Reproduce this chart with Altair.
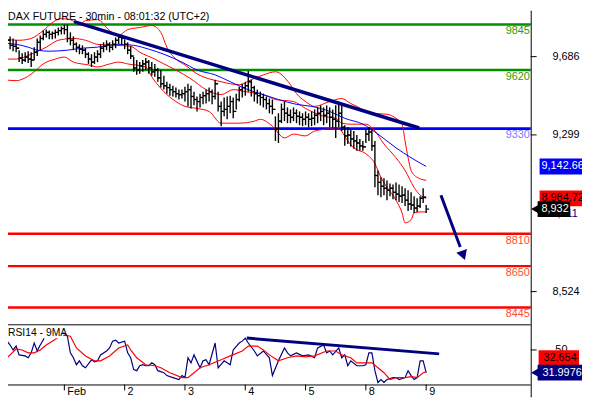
import altair as alt
import pandas as pd

FONT = "Liberation Sans"

# ---------------- price bars (30-min), bar index j: 20 bars per day ----------------
highs = [9791, 9801, 9786, 9776, 9767, 9718, 9703, 9708, 9713, 9708, 9732, 9776, 9791, 9815, 9820, 9815, 9811, 9820, 9830, 9835,
         9845, 9845, 9806, 9786, 9757, 9747, 9742, 9728, 9708, 9698, 9708, 9718, 9747, 9757, 9767, 9757, 9767, 9781, 9796, 9791,
         9772, 9757, 9737, 9684, 9669, 9659, 9669, 9679, 9669, 9659, 9650, 9630, 9620, 9591, 9562, 9552, 9542, 9533, 9523, 9523,
         9537, 9552, 9542, 9513, 9489, 9503, 9513, 9523, 9533, 9523, 9572, 9513, 9464, 9484, 9489, 9493, 9484, 9503, 9537, 9552,
         9562, 9615, 9572, 9542, 9523, 9513, 9503, 9489, 9479, 9474, 9391, 9406, 9454, 9464, 9435, 9425, 9435, 9425, 9415, 9406,
         9415, 9406, 9415, 9425, 9435, 9445, 9435, 9445, 9435, 9425, 9445, 9464, 9445, 9347, 9337, 9328, 9318, 9298, 9279, 9269,
         9328, 9337, 9328, 9269, 9123, 9089, 9084, 9074, 9059, 9054, 9064, 9054, 9045, 9035, 9025, 9015, 8996, 8986, 8996, 9035,
         8952]
lows = [9737, 9747, 9723, 9713, 9708, 9659, 9650, 9659, 9654, 9635, 9669, 9689, 9718, 9767, 9781, 9772, 9772, 9776, 9791, 9796,
        9796, 9757, 9742, 9718, 9708, 9698, 9698, 9679, 9650, 9635, 9650, 9659, 9679, 9708, 9718, 9708, 9718, 9728, 9747, 9747,
        9723, 9698, 9674, 9611, 9596, 9601, 9611, 9620, 9601, 9591, 9586, 9562, 9533, 9523, 9503, 9493, 9489, 9484, 9474, 9479,
        9464, 9440, 9430, 9445, 9415, 9435, 9450, 9454, 9464, 9450, 9474, 9415, 9342, 9391, 9376, 9406, 9381, 9425, 9464, 9484,
        9493, 9513, 9489, 9464, 9454, 9445, 9435, 9425, 9406, 9401, 9269, 9259, 9357, 9367, 9357, 9357, 9367, 9357, 9347, 9342,
        9347, 9337, 9342, 9347, 9357, 9367, 9347, 9357, 9337, 9333, 9284, 9337, 9318, 9245, 9254, 9240, 9230, 9220, 9220, 9220,
        9259, 9269, 9220, 9040, 9001, 8991, 9001, 8976, 8996, 8981, 8976, 8967, 8962, 8947, 8923, 8928, 8913, 8918, 8937, 8962,
        8913]
closes = [9757, 9767, 9742, 9737, 9728, 9679, 9669, 9684, 9674, 9669, 9708, 9757, 9776, 9796, 9806, 9796, 9801, 9806, 9815, 9825,
          9820, 9776, 9767, 9747, 9732, 9723, 9718, 9698, 9674, 9659, 9684, 9698, 9728, 9737, 9747, 9732, 9747, 9767, 9781, 9776,
          9747, 9718, 9689, 9630, 9620, 9640, 9650, 9659, 9630, 9611, 9620, 9581, 9552, 9542, 9533, 9523, 9513, 9503, 9498, 9503,
          9513, 9523, 9489, 9474, 9464, 9484, 9493, 9503, 9513, 9489, 9552, 9440, 9415, 9425, 9440, 9464, 9415, 9474, 9523, 9533,
          9542, 9562, 9533, 9503, 9493, 9484, 9474, 9454, 9440, 9425, 9328, 9367, 9425, 9406, 9396, 9386, 9406, 9391, 9386, 9376,
          9386, 9376, 9381, 9396, 9406, 9415, 9396, 9406, 9386, 9376, 9367, 9406, 9337, 9294, 9298, 9279, 9269, 9259, 9245, 9240,
          9303, 9313, 9245, 9098, 9064, 9045, 9035, 9025, 9035, 9015, 9006, 8996, 9001, 8976, 8957, 8952, 8937, 8947, 8986, 8991,
          8932]

# Bollinger bands
bb_up_j = [0, 5, 9, 13, 16, 19, 22, 25, 27, 31, 35, 38, 41, 45, 49, 52, 54, 57, 60, 64, 68, 72, 75, 78, 82, 86, 90, 95, 97, 100,
           103, 108, 112, 115, 117, 120, 123, 127, 130, 132, 133, 134, 135, 137, 140]
bb_up_v = [9772, 9767, 9776, 9815, 9854, 9874, 9869, 9845, 9864, 9869, 9815, 9791, 9820, 9830, 9840, 9806, 9733, 9674, 9645, 9601,
           9576, 9562, 9552, 9547, 9572, 9596, 9611, 9547, 9503, 9464, 9440, 9464, 9479, 9454, 9440, 9415, 9405, 9401, 9381, 9352,
           9269, 9186, 9123, 9089, 9074]
bb_mid_j = [0, 4, 9, 14, 18, 23, 27, 31, 37, 42, 45, 50, 53, 57, 62, 67, 72, 76, 80, 86, 90, 96, 100, 106, 110, 112, 115, 120, 123,
            126, 130, 133, 136, 138, 140]
bb_mid_v = [9674, 9674, 9698, 9733, 9767, 9776, 9767, 9747, 9742, 9737, 9708, 9674, 9650, 9620, 9576, 9523, 9498, 9523, 9513, 9498,
            9474, 9464, 9430, 9391, 9381, 9357, 9352, 9352, 9318, 9254, 9186, 9123, 9039, 9001, 8985]
bb_lo_j = [0, 4, 7, 10, 13, 17, 20, 23, 28, 31, 35, 38, 41, 47, 49, 51, 53, 57, 60, 64, 68, 72, 75, 78, 83, 85, 89, 93, 96, 100,
           103, 108, 111, 114, 116, 120, 123, 125, 127, 130, 132, 133, 135, 136, 138, 140]
bb_lo_v = [9572, 9567, 9581, 9611, 9650, 9674, 9684, 9659, 9645, 9635, 9650, 9659, 9650, 9635, 9586, 9547, 9513, 9464, 9440, 9430,
           9415, 9357, 9357, 9357, 9367, 9376, 9342, 9284, 9303, 9294, 9318, 9328, 9328, 9269, 9235, 9206, 9157, 9089, 9040, 8976,
           8913, 8864, 8879, 8913, 8918, 8918]
# longer moving average (blue)
ma_j = [0, 4, 8, 11, 15, 21, 26, 31, 38, 43, 48, 53, 59, 64, 70, 75, 80, 86, 91, 97, 102, 108, 113, 119, 124, 130, 135, 140]
ma_v = [9752, 9747, 9733, 9718, 9713, 9718, 9728, 9733, 9747, 9742, 9723, 9698, 9659, 9620, 9596, 9562, 9528, 9498, 9474, 9450,
        9440, 9415, 9381, 9352, 9303, 9235, 9186, 9143]

# RSI14 and its 9MA
rsi_j = [0, 1, 2, 3, 4, 5, 7, 8, 9, 10, 11, 12, 13, 14, 16, 18, 20, 21, 22, 23, 24, 25, 26, 27, 29, 30, 31, 32, 34, 35, 36, 37, 38,
         40, 41, 42, 43, 44, 45, 46, 47, 48, 49, 50, 51, 53, 54, 56, 58, 59, 60, 61, 62, 63, 65, 66, 67, 68, 70, 71, 73, 74, 75, 76,
         78, 79, 80, 81, 83, 84, 86, 88, 89, 91, 93, 94, 95, 97, 99, 101, 103, 104, 106, 107, 108, 109, 111, 112, 113, 114, 115,
         117, 119, 120, 121, 122, 123, 124, 125, 126, 127, 129, 130, 131, 133, 134, 135, 136, 137, 138, 139, 140]
rsi_v = [42.2, 57.0, 53.9, 50.0, 53.1, 46.1, 45.3, 43.8, 47.7, 55.5, 49.2, 53.9, 57.8, 64.8, 65.5, 64.8, 63.3, 60.9, 47.7, 43.8,
         38.3, 41.4, 37.5, 35.9, 42.2, 40.6, 41.4, 46.1, 49.2, 51.6, 57.0, 57.8, 55.5, 57.0, 47.7, 43.8, 34.4, 33.6, 37.5, 38.3,
         37.5, 37.5, 39.8, 38.3, 33.6, 32.0, 29.7, 28.1, 26.6, 29.7, 28.1, 43.8, 39.8, 46.1, 35.9, 41.4, 42.2, 38.3, 55.5, 35.9,
         41.4, 39.8, 38.3, 50.0, 55.5, 57.0, 59.4, 55.5, 49.2, 45.3, 49.2, 43.8, 29.7, 41.4, 51.6, 47.7, 45.3, 47.7, 45.3, 46.1,
         43.8, 51.6, 53.9, 47.7, 49.2, 46.1, 51.6, 43.8, 46.1, 37.5, 41.4, 37.5, 37.5, 38.3, 47.7, 47.7, 33.6, 24.2, 26.6, 24.2,
         26.6, 28.1, 28.1, 26.6, 28.1, 33.6, 29.7, 26.6, 28.1, 41.4, 41.4, 31.9976]
rma_j = [0, 2, 4, 6, 8, 10, 12, 14, 16, 18, 20, 22, 24, 27, 30, 32, 35, 38, 41, 42, 44, 47, 50, 52, 55, 59, 61, 63, 65, 68, 72, 75,
         79, 81, 84, 86, 88, 91, 94, 97, 100, 103, 107, 110, 112, 115, 117, 120, 122, 124, 126, 128, 130, 133, 135, 137, 139, 140]
rma_v = [41.4, 46.1, 50.8, 50.0, 47.7, 47.7, 50.0, 53.9, 57.0, 60.0, 61.7, 60.9, 51.6, 45.3, 41.4, 41.4, 45.3, 51.6, 53.9, 50.0,
         43.8, 38.3, 37.5, 35.9, 32.0, 28.1, 28.1, 32.0, 35.9, 38.3, 42.2, 45.3, 49.2, 53.1, 53.1, 50.0, 46.1, 41.4, 43.8, 45.3,
         44.5, 45.3, 49.2, 49.2, 46.1, 43.8, 39.8, 39.8, 39.8, 35.9, 32.0, 26.6, 28.1, 28.1, 28.9, 28.1, 32.0, 32.654]

# levels
level_vals = [9845, 9620, 9330, 8810, 8650, 8445]
level_line_colors = ["#009000", "#009000", "#0000ff", "#ff0000", "#ff0000", "#ff0000"]
level_text_colors = ["#3a9a00", "#3a9a00", "#7b7bff", "#ff4d2e", "#ff4d2e", "#ff4d2e"]
level_widths = [2.5, 2.5, 3, 2.5, 2.5, 2.5]

price_ticks = [9686, 9299, 8524]
price_tick_labels = ["9,686", "9,299", "8,524"]
day_pos = [20, 40, 60, 80, 100, 120, 140]
day_labels = ["Feb", "2", "3", "4", "5", "8", "9"]

trend_j = [23.2, 137.7]
trend_v = [9859, 9333]
arrow_j = [144.9, 151.3]
arrow_v = [9001, 8745]
arrow_head_j = [152.3]
arrow_head_v = [8703]
rsi_trend_j = [80.5, 144.3]
rsi_trend_v = [59.4, 46.9]

# ---------------- scales ----------------
W, H = 582, 392
XS = alt.Scale(domain=[0, 140], range=[-4, 424], zero=False, nice=False)
PS = alt.Scale(domain=[8445, 9845], range=[301, 14], zero=False, nice=False)
RS = alt.Scale(domain=[30, 50], range=[369.6, 344], zero=False, nice=False)


def X(f="j"):
    return alt.X(f"{f}:Q", scale=XS, axis=None)


def YP(f="v"):
    return alt.Y(f"{f}:Q", scale=PS, axis=None)


def YR(f="v"):
    return alt.Y(f"{f}:Q", scale=RS, axis=None)


n = len(closes)
bars = pd.DataFrame({
    "j": list(range(n)),
    "high": highs,
    "low": lows,
    "close": closes,
    "open": [closes[0]] + closes[:-1],
})

levels = pd.DataFrame({"v": level_vals, "c": level_line_colors, "tc": level_text_colors,
                       "lab": [str(v) for v in level_vals], "w": level_widths})

bands = pd.concat([
    pd.DataFrame({"j": bb_up_j, "v": bb_up_v, "b": "up"}),
    pd.DataFrame({"j": bb_mid_j, "v": bb_mid_v, "b": "mid"}),
    pd.DataFrame({"j": bb_lo_j, "v": bb_lo_v, "b": "lo"}),
])
ma = pd.DataFrame({"j": ma_j, "v": ma_v})
rsi = pd.DataFrame({"j": rsi_j, "v": rsi_v})
rma = pd.DataFrame({"j": rma_j, "v": rma_v})

layers = []

# level lines + labels
layers.append(alt.Chart(levels).mark_rule().encode(
    y=YP(), x=alt.value(0), x2=alt.value(530),
    color=alt.Color("c:N", scale=None), strokeWidth=alt.StrokeWidth("w:Q", scale=None)))
layers.append(alt.Chart(levels).mark_text(align="right", baseline="middle", dy=7, fontSize=11, font=FONT).encode(
    y=YP(), x=alt.value(529), text="lab:N", color=alt.Color("tc:N", scale=None)))

# bands and MA
layers.append(alt.Chart(bands).mark_line(color="#ff0000", strokeWidth=1, interpolate="monotone").encode(
    x=X(), y=YP(), detail="b:N"))
layers.append(alt.Chart(ma).mark_line(color="#0000ff", strokeWidth=1, interpolate="monotone").encode(x=X(), y=YP()))

# OHLC bars
layers.append(alt.Chart(bars).mark_rule(color="black", strokeWidth=1.4).encode(x=X(), y=YP("low"), y2="high:Q"))
layers.append(alt.Chart(bars).mark_tick(orient="horizontal", color="black", size=3, thickness=1.2, xOffset=1.5,
                                        opacity=1).encode(x=X(), y=YP("close")))
layers.append(alt.Chart(bars).mark_tick(orient="horizontal", color="black", size=3, thickness=1.2, xOffset=-1.5,
                                        opacity=1).encode(x=X(), y=YP("open")))

# trend line and arrow
layers.append(alt.Chart(pd.DataFrame({"j": trend_j, "v": trend_v})).mark_line(
    color="#000080", strokeWidth=3.5).encode(x=X(), y=YP()))
layers.append(alt.Chart(pd.DataFrame({"j": arrow_j, "v": arrow_v})).mark_line(
    color="#000080", strokeWidth=3).encode(x=X(), y=YP()))
layers.append(alt.Chart(pd.DataFrame({"j": arrow_head_j, "v": arrow_head_v})).mark_point(
    shape="triangle-down", filled=True, size=130, angle=340, color="#000080", opacity=1).encode(x=X(), y=YP()))

# frame lines
layers.append(alt.Chart().mark_rule(color="black", strokeWidth=1).encode(
    x=alt.value(530.5), y=alt.value(0), y2=alt.value(392)))
layers.append(alt.Chart().mark_rule(color="black", strokeWidth=1).encode(
    x=alt.value(0), x2=alt.value(530), y=alt.value(318.5)))
layers.append(alt.Chart().mark_rule(color="black", strokeWidth=1).encode(
    x=alt.value(0), x2=alt.value(530), y=alt.value(379.5)))

# price axis ticks and labels
pt = pd.DataFrame({"v": price_ticks, "lab": price_tick_labels})
layers.append(alt.Chart(pt).mark_rule(color="black").encode(y=YP(), x=alt.value(530), x2=alt.value(536)))
layers.append(alt.Chart(pt).mark_text(align="left", baseline="middle", fontSize=11, font=FONT, color="black").encode(
    y=YP(), x=alt.value(552), text="lab:N"))

# RSI lines
layers.append(alt.Chart(rsi).mark_line(color="#000080", strokeWidth=1.2).encode(x=X(), y=YR()))
layers.append(alt.Chart(rma).mark_line(color="#ff0000", strokeWidth=1.2).encode(x=X(), y=YR()))
layers.append(alt.Chart(pd.DataFrame({"j": rsi_trend_j, "v": rsi_trend_v})).mark_line(
    color="#000080", strokeWidth=3).encode(x=X(), y=YR()))

# RSI label with white background
layers.append(alt.Chart().mark_rect(color="white").encode(
    x=alt.value(0), x2=alt.value(56), y=alt.value(319.5), y2=alt.value(332)))
layers.append(alt.Chart().mark_text(text="RSI14 - 9MA", align="left", baseline="middle", fontSize=10.5,
                                    font=FONT, color="black").encode(x=alt.value(0), y=alt.value(327)))

# RSI 50 tick
r50 = pd.DataFrame({"v": [50], "lab": ["50"]})
layers.append(alt.Chart(r50).mark_rule(color="black").encode(y=YR(), x=alt.value(530), x2=alt.value(536)))
layers.append(alt.Chart(r50).mark_text(align="left", baseline="middle", fontSize=11, font=FONT).encode(
    y=YR(), x=alt.value(555), text="lab:N"))

# day ticks and labels
days = pd.DataFrame({"j": day_pos, "lab": day_labels})
layers.append(alt.Chart(days).mark_rule(color="black").encode(x=X(), y=alt.value(379), y2=alt.value(385)))
layers.append(alt.Chart(days).mark_text(align="left", baseline="alphabetic", dx=3, fontSize=11, font=FONT).encode(
    x=X(), y=alt.value(389.5), text="lab:N"))


# value boxes, price panel
def box(val, x1, x2, fill, scale_fn, off=0):
    d = pd.DataFrame({"v": [val]})
    return alt.Chart(d).mark_rect(color=fill, yOffset=-8 + off, y2Offset=8 + off).encode(
        x=alt.value(x1), x2=alt.value(x2), y=scale_fn(), y2="v:Q")


def boxtext(val, txt, x, col, scale_fn, off=0):
    d = pd.DataFrame({"v": [val]})
    return alt.Chart(d).mark_text(text=txt, align="left", baseline="middle", fontSize=11, font=FONT,
                                  color=col, dy=off).encode(x=alt.value(x), y=scale_fn())


def pointer(val, col, scale_fn):
    d = pd.DataFrame({"v": [val]})
    return alt.Chart(d).mark_point(shape="triangle-left", filled=True, size=70, color=col, opacity=1).encode(
        x=alt.value(534), y=scale_fn())


layers.append(box(9142.66, 539, 582, "#0000ff", YP))
layers.append(boxtext(9142.66, "9,142.66", 541, "white", YP))
layers.append(box(8984.72, 539, 582, "#ff0000", YP))
layers.append(boxtext(8984.72, "8,984.72", 541, "black", YP))
layers.append(boxtext(8907, "8,911", 551, "#000080", YP))
layers.append(box(8932, 537, 570, "black", YP))
layers.append(pointer(8932, "black", YP))
layers.append(boxtext(8932, "8,932", 541, "white", YP))

# value boxes, RSI panel
layers.append(box(32.654, 538, 579, "#ff0000", YR, off=-14))
layers.append(boxtext(32.654, "32.654", 543, "black", YR, off=-14))
layers.append(box(31.9976, 537, 582, "#000080", YR))
layers.append(pointer(31.9976, "#000080", YR))
layers.append(boxtext(31.9976, "31.9976", 542, "white", YR))

# title
layers.append(alt.Chart().mark_text(text="DAX FUTURE - 30min - 08:01:32 (UTC+2)", align="left", baseline="top",
                                    fontSize=10.8, font=FONT, color="black").encode(x=alt.value(0), y=alt.value(0)))

chart = alt.layer(*layers).resolve_scale(y="independent").properties(
    width=W, height=H, padding=0, autosize="none"
).configure_view(stroke=None)

chart.save("out.html", embed_options={"renderer": "svg", "actions": False})
